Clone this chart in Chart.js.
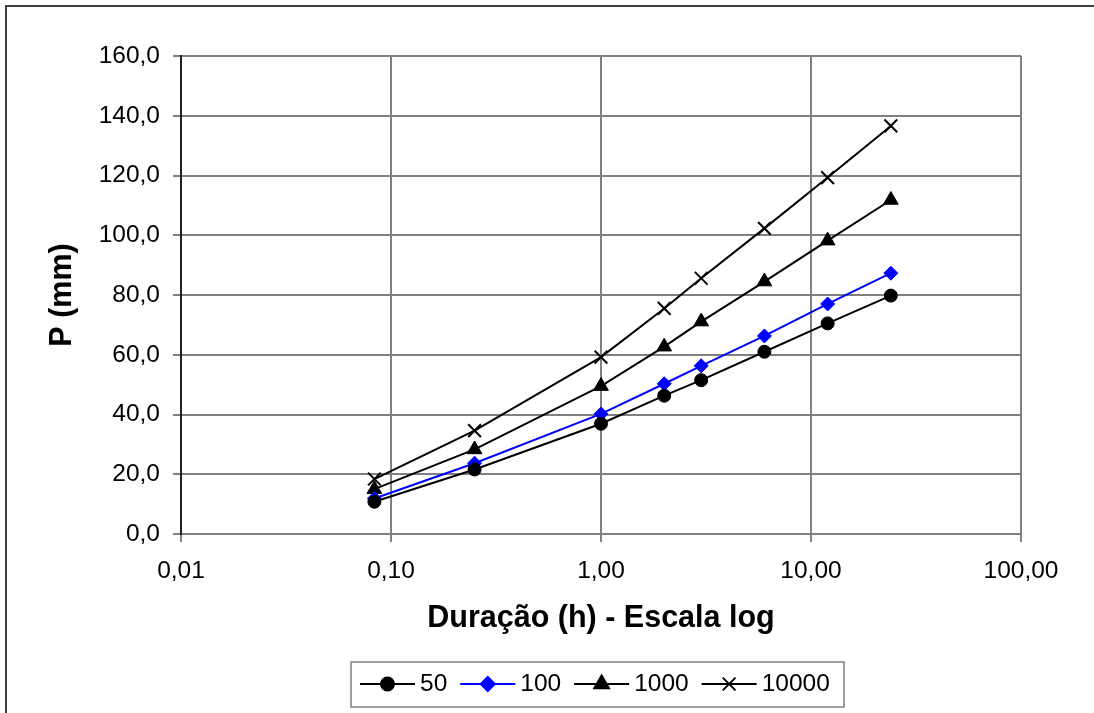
<!DOCTYPE html>
<html>
<head>
<meta charset="utf-8">
<script src="https://cdn.jsdelivr.net/npm/chart.js"></script>
<style>
  body { margin: 0; background: #fff; }
  #wrap { width: 1094px; height: 713px; }
</style>
</head>
<body>
<div id="wrap"><canvas id="grafico" width="1094" height="713"></canvas></div>
<script>
// Dados
var duracoes = [5 / 60, 0.25, 1, 2, 3, 6, 12, 24];
var series = ['50', '100', '1000', '10000'];
var p50 = [10.8, 21.6, 36.9, 46.3, 51.5, 61.0, 70.5, 79.8];
var p100 = [11.9, 23.7, 40.2, 50.3, 56.3, 66.3, 77.0, 87.3];
var p1000 = [15.0, 28.3, 49.5, 62.7, 71.1, 84.5, 98.2, 111.8];
var p10000 = [18.4, 34.6, 59.2, 75.5, 85.6, 102.3, 119.3, 136.6];
var xTicks = [0.01, 0.1, 1, 10, 100];

var fonte = 'Liberation Sans, Arial, sans-serif';

function pontos(vals) {
  return vals.map(function (v, i) { return { x: duracoes[i], y: v }; });
}

function serie(label, vals, cor, estilo, raio) {
  return {
    label: label,
    data: pontos(vals),
    borderColor: cor,
    backgroundColor: cor,
    borderWidth: 2,
    pointStyle: estilo,
    pointRadius: raio,
    pointHoverRadius: raio,
    pointBorderWidth: estilo === 'crossRot' ? 2 : 1,
    fill: false,
    tension: 0
  };
}

var data = {
  datasets: [
    serie(series[0], p50, '#000000', 'circle', 6.5),
    serie(series[1], p100, '#0000ff', 'rectRot', 7),
    serie(series[2], p1000, '#000000', 'triangle', 8.5),
    serie(series[3], p10000, '#000000', 'crossRot', 9)
  ]
};

// moldura externa e legenda desenhadas à mão
var molduraELegenda = {
  id: 'molduraELegenda',
  afterDraw: function (chart) {
    var ctx = chart.ctx;
    ctx.save();
    ctx.strokeStyle = '#404040';
    ctx.lineWidth = 2;
    ctx.strokeRect(6, 6, 1300, 1300);

    // caixa da legenda
    ctx.strokeStyle = '#808080';
    ctx.lineWidth = 1.5;
    ctx.strokeRect(351, 662, 493, 45);

    ctx.font = '24.5px ' + fonte;
    ctx.textBaseline = 'middle';
    var x = 360, y = 684;
    chart.data.datasets.forEach(function (ds) {
      ctx.strokeStyle = ds.borderColor;
      ctx.fillStyle = ds.backgroundColor;
      ctx.lineWidth = 2;
      ctx.beginPath();
      ctx.moveTo(x, y);
      ctx.lineTo(x + 55, y);
      ctx.stroke();
      Chart.helpers.drawPoint(ctx, {
        pointStyle: ds.pointStyle,
        radius: ds.pointRadius,
        rotation: 0,
        borderWidth: ds.pointBorderWidth
      }, x + 27.5, y);
      ctx.fillStyle = '#000';
      ctx.fillText(ds.label, x + 60, y);
      x = x + 60 + ctx.measureText(ds.label).width + 13;
    });
    ctx.restore();
  }
};

var options = {
  responsive: false,
  animation: false,
  layout: { padding: { top: 56, right: 73, bottom: 0, left: 0 } },
  scales: {
    x: {
      type: 'logarithmic',
      min: 0.01,
      max: 100,
      afterBuildTicks: function (scale) {
        scale.ticks = xTicks.map(function (v) { return { value: v }; });
      },
      afterFit: function (scale) { scale.height = 179; },
      grid: { color: '#808080', lineWidth: 2, tickLength: 8 },
      border: { color: '#808080', width: 2 },
      ticks: {
        color: '#000',
        font: { family: fonte, size: 24.5 },
        padding: 15,
        maxRotation: 0,
        autoSkip: false,
        callback: function (v) { return Number(v).toFixed(2).replace('.', ','); }
      },
      title: {
        display: true,
        text: 'Duração (h) - Escala log',
        color: '#000',
        font: { family: fonte, size: 30.5, weight: 'bold' },
        padding: { top: 0, bottom: 76 }
      }
    },
    y: {
      min: 0,
      max: 160,
      afterFit: function (scale) { scale.width = 181; },
      grid: { color: '#808080', lineWidth: 2, tickLength: 8 },
      border: { color: '#202020', width: 2 },
      ticks: {
        stepSize: 20,
        color: '#000',
        font: { family: fonte, size: 24.5 },
        padding: 13,
        callback: function (v) { return v.toFixed(1).replace('.', ','); }
      },
      title: {
        display: true,
        text: 'P (mm)',
        color: '#000',
        font: { family: fonte, size: 30.5, weight: 'bold' },
        padding: { top: 44, bottom: 0 }
      }
    }
  },
  plugins: {
    legend: { display: false },
    tooltip: { enabled: false }
  }
};

var ctx = document.getElementById('grafico').getContext('2d');
var grafico = new Chart(ctx, {
  type: 'line',
  data: data,
  options: options,
  plugins: [molduraELegenda]
});
</script>
</body>
</html>
